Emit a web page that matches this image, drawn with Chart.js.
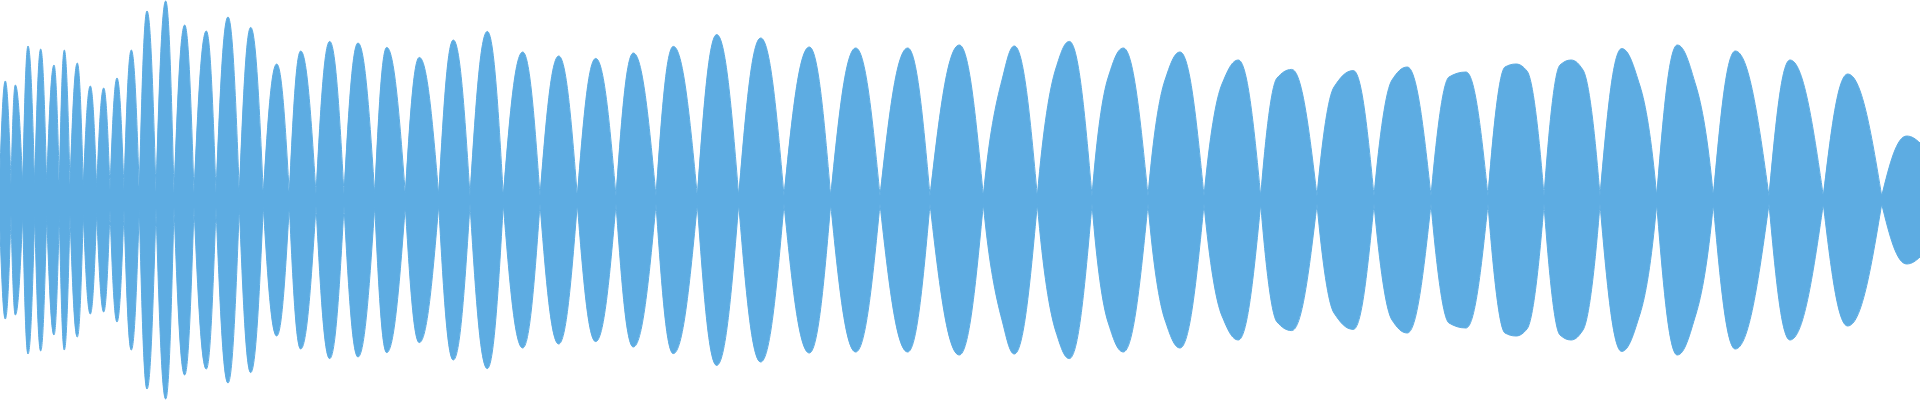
<!DOCTYPE html>
<html>
<head>
<meta charset="utf-8">
<script src="https://cdn.jsdelivr.net/npm/chart.js@4"></script>
<style>
    html, body { margin: 0; padding: 0; background: #fff; }
    #wrap { width: 1920px; height: 400px; position: relative; }
</style>
</head>
<body>
<div id="wrap"><canvas id="wave"></canvas></div>
<script>
// waveform envelope, time in ms, amplitude normalised to 1
var pinchPos = [0, 11, 22.7, 34.7, 46.7, 59.3, 70, 83.3, 96.7, 110,
    124, 139.3, 156, 174, 194, 216, 239.3, 263.3, 289.3, 316,
    344, 374.7, 405.3, 438.7, 470, 503.3, 540, 577.3, 616, 656,
    697.3, 738.7, 784, 830.7, 880, 930, 983.3, 1037.3, 1092, 1148,
    1204, 1260.7, 1317, 1374, 1431, 1488, 1544, 1600, 1656.7, 1713.3,
    1769, 1823.3, 1881.7, 1920];
var pinchAmp = [0.15, 0.075, 0.075, 0.075, 0.075, 0.075, 0.075, 0.07, 0.06, 0.05,
    0.05, 0.045, 0.04, 0.035, 0.035, 0.035, 0.035, 0.03, 0.03, 0.03,
    0.03, 0.03, 0.03, 0.025, 0.02, 0.02, 0.02, 0.02, 0.02, 0.02,
    0.02, 0.02, 0.02, 0.02, 0.02, 0.02, 0.02, 0.02, 0.02, 0.02,
    0.02, 0.02, 0.02, 0.02, 0.02, 0.02, 0.02, 0.02, 0.02, 0.02,
    0.02, 0.02, 0.02, 0.285];
var crestPos = [5.3, 15.3, 28, 40.7, 54, 64.3, 77.3, 90.3, 103.7, 117,
    131.3, 147, 165.7, 184.7, 206.3, 228, 250.7, 276.7, 300.7, 329.7,
    358, 386.7, 419.3, 453.3, 487.3, 522.7, 558.7, 595.7, 633.3, 673.3,
    716.7, 760.7, 809.3, 855.7, 907.7, 959.3, 1014.3, 1069.3, 1123.3, 1180,
    1238.3, 1291.7, 1353.3, 1407.3, 1466, 1516, 1571, 1621.7, 1677.3, 1735.3,
    1790, 1847.7, 1906.7];
var crestAmp = [0.595, 0.575, 0.77, 0.755, 0.675, 0.75, 0.685, 0.57, 0.56, 0.61,
    0.75, 0.945, 0.995, 0.875, 0.845, 0.915, 0.863, 0.68, 0.745, 0.793,
    0.785, 0.763, 0.713, 0.80, 0.843, 0.74, 0.72, 0.708, 0.735, 0.768,
    0.827, 0.81, 0.765, 0.76, 0.76, 0.775, 0.77, 0.793, 0.76, 0.74,
    0.70, 0.653, 0.647, 0.665, 0.64, 0.68, 0.70, 0.757, 0.775, 0.745,
    0.70, 0.63, 0.32];
// shoulders / flat tops seen on the later lobes
var shoulderPos = [1002, 1056, 1108, 1165, 1222, 1277, 1334, 1392, 1449,
    1505, 1527, 1560, 1583, 1640, 1696];
var shoulderAmp = [0.60, 0.66, 0.61, 0.60, 0.58, 0.61, 0.565, 0.60, 0.615,
    0.665, 0.645, 0.675, 0.65, 0.57, 0.57];

var waveColor = '#5dace2';

function buildEnvelope(sign) {
    var pts = [];
    for (var k = 0; k < crestPos.length; k++) {
        var inner = [{ x: crestPos[k], y: sign * crestAmp[k], role: 'crest' }];
        for (var s = 0; s < shoulderPos.length; s++) {
            if (shoulderPos[s] > pinchPos[k] && shoulderPos[s] < pinchPos[k + 1]) {
                inner.push({ x: shoulderPos[s], y: sign * shoulderAmp[s], role: 'shoulder' });
            }
        }
        inner.sort(function (a, b) { return a.x - b.x; });
        // each lobe starts and ends on its own pinch point, so the lobes stay apart
        pts.push({ x: pinchPos[k], y: sign * pinchAmp[k], role: 'pinch' });
        pts = pts.concat(inner);
        pts.push({ x: pinchPos[k + 1], y: sign * pinchAmp[k + 1], role: 'pinch' });
    }
    return pts;
}

function slope(a, b) {
    return (b.y - a.y) / (b.x - a.x);
}

// lobes are sine arches: steep out of a pinch, flat over the crest,
// shoulders get a monotone tangent so they do not overshoot
function shapeLobes(pts, roles) {
    for (var i = 0; i < pts.length; i++) {
        var p = pts[i], prev = pts[i - 1], next = pts[i + 1];
        var role = roles[i];
        var m = 0;
        if (role === 'shoulder') {
            var s1 = slope(prev, p), s2 = slope(p, next);
            m = s1 * s2 > 0 ? 2 * s1 * s2 / (s1 + s2) : 0;
        }
        if (prev && prev.x < p.x) {
            var dx = prev.x - p.x;
            if (role === 'pinch') { p.cp1x = p.x + dx * 0.32; p.cp1y = p.y + (prev.y - p.y) * 0.54; }
            else if (role === 'crest') { p.cp1x = p.x + dx * 0.4; p.cp1y = p.y; }
            else { p.cp1x = p.x + dx / 3; p.cp1y = p.y + m * dx / 3; }
        } else { p.cp1x = p.x; p.cp1y = p.y; }
        if (next && next.x > p.x) {
            var dn = next.x - p.x;
            if (role === 'pinch') { p.cp2x = p.x + dn * 0.32; p.cp2y = p.y + (next.y - p.y) * 0.54; }
            else if (role === 'crest') { p.cp2x = p.x + dn * 0.4; p.cp2y = p.y; }
            else { p.cp2x = p.x + dn / 3; p.cp2y = p.y + m * dn / 3; }
        } else { p.cp2x = p.x; p.cp2y = p.y; }
    }
}

var archPlugin = {
    id: 'arch',
    beforeDraw: function (chart) {
        chart.data.datasets.forEach(function (ds, d) {
            var meta = chart.getDatasetMeta(d);
            meta.dataset.updateControlPoints(chart.chartArea, 'x');
            shapeLobes(meta.data, ds.data.map(function (o) { return o.role; }));
        });
    }
};

var lobeStyle = {
    borderColor: waveColor,
    backgroundColor: waveColor,
    borderWidth: 1,
    pointRadius: 0,
    tension: 0.4,
    fill: 'origin'
};

new Chart(document.getElementById('wave'), {
    type: 'line',
    data: {
        datasets: [
            Object.assign({ label: 'upper', data: buildEnvelope(1) }, lobeStyle),
            Object.assign({ label: 'lower', data: buildEnvelope(-1) }, lobeStyle)
        ]
    },
    options: {
        responsive: true,
        maintainAspectRatio: false,
        animation: false,
        layout: { padding: 0 },
        plugins: {
            legend: { display: false },
            tooltip: { enabled: false }
        },
        scales: {
            x: { type: 'linear', min: 0, max: 1920, display: false },
            y: { min: -1, max: 1, display: false }
        }
    },
    plugins: [archPlugin]
});
</script>
</body>
</html>
